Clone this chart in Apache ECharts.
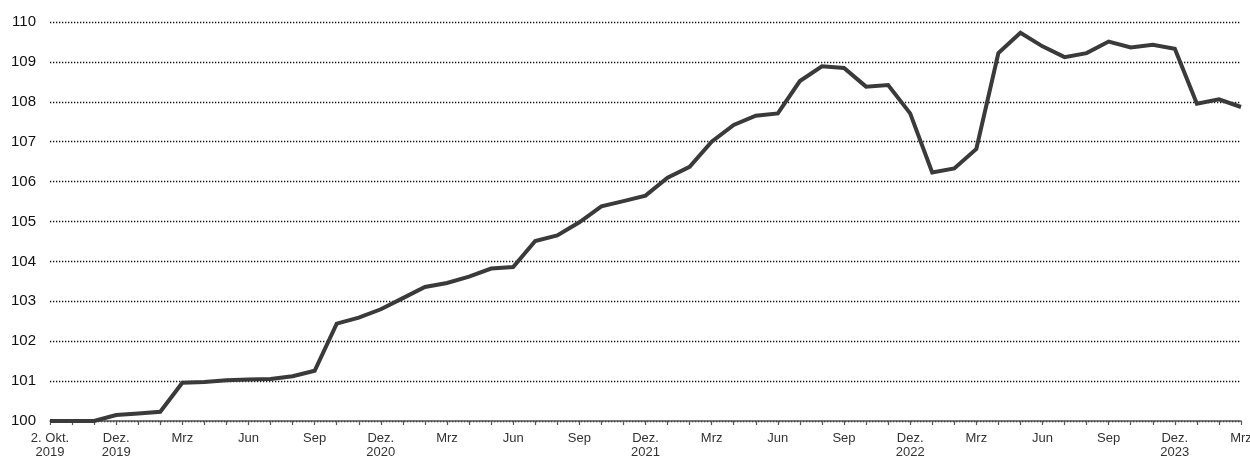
<!DOCTYPE html>
<html>
<head>
<meta charset="utf-8">
<script src="https://cdn.jsdelivr.net/npm/echarts@6/dist/echarts.min.js"></script>
<style>
  html, body { margin: 0; padding: 0; background: #fff; }
  #main { width: 1250px; height: 457px; }
</style>
</head>
<body>
<div id="main"></div>
<script>
// Monatswerte, Start 2. Okt. 2019 = 100
var months = [
  '2019-10-02', '2019-10', '2019-11', '2019-12',
  '2020-01', '2020-02', '2020-03', '2020-04', '2020-05', '2020-06', '2020-07', '2020-08', '2020-09', '2020-10', '2020-11', '2020-12',
  '2021-01', '2021-02', '2021-03', '2021-04', '2021-05', '2021-06', '2021-07', '2021-08', '2021-09', '2021-10', '2021-11', '2021-12',
  '2022-01', '2022-02', '2022-03', '2022-04', '2022-05', '2022-06', '2022-07', '2022-08', '2022-09', '2022-10', '2022-11', '2022-12',
  '2023-01', '2023-02', '2023-03', '2023-04', '2023-05', '2023-06', '2023-07', '2023-08', '2023-09', '2023-10', '2023-11', '2023-12',
  '2024-01', '2024-02', '2024-03'
];
var values = [
  100, 100, 100, 100.15,
  100.19, 100.23, 100.96, 100.98, 101.02, 101.04, 101.05, 101.12, 101.26, 102.44, 102.59, 102.8,
  103.08, 103.36, 103.46, 103.62, 103.82, 103.86, 104.51, 104.65, 104.98, 105.38, 105.51, 105.65,
  106.1, 106.37, 107.0, 107.42, 107.65, 107.71, 108.52, 108.89, 108.85, 108.38, 108.42, 107.71,
  106.23, 106.33, 106.82, 109.22, 109.73, 109.39, 109.12, 109.22, 109.51, 109.36, 109.43, 109.33,
  107.95, 108.06, 107.87
];
// Beschriftungen der x-Achse (leer = nur Tick)
var tickLabels = {
  '2019-10-02': '2. Okt.\n2019', '2019-12': 'Dez.\n2019',
  '2020-03': 'Mrz', '2020-06': 'Jun', '2020-09': 'Sep', '2020-12': 'Dez.\n2020',
  '2021-03': 'Mrz', '2021-06': 'Jun', '2021-09': 'Sep', '2021-12': 'Dez.\n2021',
  '2022-03': 'Mrz', '2022-06': 'Jun', '2022-09': 'Sep', '2022-12': 'Dez.\n2022',
  '2023-03': 'Mrz', '2023-06': 'Jun', '2023-09': 'Sep', '2023-12': 'Dez.\n2023',
  '2024-03': 'Mrz'
};

var myChart = echarts.init(document.getElementById('main'));

var option = {
  animation: false,
  grid: { left: 50, right: 9, top: 22, bottom: 36, outerBoundsMode: 'none', containLabel: false },
  textStyle: { fontFamily: 'Liberation Sans, Arial, sans-serif' },
  xAxis: {
    type: 'category',
    boundaryGap: false,
    data: months,
    axisLine: { lineStyle: { color: '#555', width: 1.5 } },
    axisTick: { interval: 0, length: 4, lineStyle: { color: '#555', width: 1.2 } },
    axisLabel: {
      interval: 0,
      color: '#333',
      fontSize: 13,
      lineHeight: 14,
      margin: 10,
      hideOverlap: false,
      formatter: function (v) { return tickLabels[v] || ''; }
    }
  },
  yAxis: {
    type: 'value',
    min: 100,
    max: 110,
    interval: 1,
    axisLine: { show: false },
    axisTick: { show: false },
    axisLabel: { color: '#111', fontSize: 15, margin: 14 },
    splitLine: { lineStyle: { color: '#111', width: 1.3, type: [1.3, 1.7] } }
  },
  series: [{
    type: 'line',
    data: values,
    symbol: 'none',
    lineStyle: { color: '#3a3a3a', width: 4, join: 'miter' }
  }]
};

myChart.setOption(option);
</script>
</body>
</html>
